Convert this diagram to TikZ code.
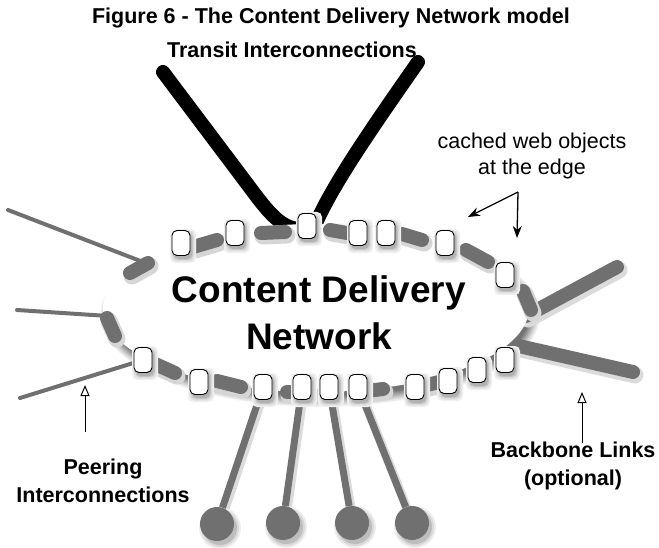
\documentclass[tikz,border=0pt]{standalone}
\usepackage{fontspec}
\setmainfont{Liberation Sans}
\usetikzlibrary{arrows.meta,shapes.geometric}
\definecolor{netgrey}{RGB}{112,112,112}
\begin{document}
\begin{tikzpicture}[x=1pt,y=-1pt,
  lbl/.style={align=center,font=\fontsize{21.5}{27.5}\selectfont\bfseries,inner sep=0pt},
  lblreg/.style={align=center,font=\fontsize{21.5}{25.5}\selectfont,inner sep=0pt},
  cachebox/.style={draw,line width=0.9pt,fill=white,rounded corners=5pt,minimum width=18pt,minimum height=25pt,inner sep=0pt},
  softsh/.style={fill=black!#1},
  seg/.style={line width=14pt,line cap=round,draw=netgrey},
  segshadow/.style={line width=17pt,line cap=round,draw=black!16},
  transit/.style={line width=14pt,line cap=round,draw=black},
  peer/.style={line width=4pt,line cap=round,draw=netgrey},
  backbone/.style={line width=14pt,line cap=round,draw=netgrey},
  bbshadow/.style={line width=17pt,line cap=round,draw=black!14},
  pend/.style={line width=7pt,draw=netgrey},
  pendshadow/.style={line width=9pt,draw=black!14},
  cust/.style={circle,fill=netgrey,minimum size=34pt,inner sep=0pt},
  callout/.style={line width=1.3pt,-{Stealth[length=12pt,width=9pt]}},
  openarrow/.style={line width=1pt,-{Triangle[open,length=11pt,width=9pt]}},
]
\useasboundingbox (0,0) rectangle (659,548);

% box positions
\coordinate (k1) at (181,243);
\coordinate (k2) at (235,233);
\coordinate (k3) at (307,226);
\coordinate (k4) at (358,233);
\coordinate (k5) at (386,233);
\coordinate (k6) at (445,243);
\coordinate (k7) at (505,275);
\coordinate (k8) at (505,360);
\coordinate (k9) at (477,370);
\coordinate (k10) at (448,381);
\coordinate (k11) at (415,387);
\coordinate (k12) at (358,387);
\coordinate (k13) at (329,387);
\coordinate (k14) at (302,387);
\coordinate (k15) at (263,387);
\coordinate (k16) at (199,382);
\coordinate (k17) at (143,360);

% texts
\node[lbl] (title) at (331,18) {Figure 6 - The Content Delivery Network model};
\node[lbl] (transitlbl) at (292,50) {Transit Interconnections};
\node[lblreg] (cachedlbl) at (532,156) {cached web objects\\at the edge};
\node[lbl] (peerlbl) at (103,481) {Peering\\Interconnections};
\node[lbl] (bblbl) at (573,466) {Backbone Links\\(optional)};

% soft shadow of the network
\coordinate (cdnc) at (316,308);
\fill[softsh=4]  (320,315) ellipse [x radius=220pt, y radius=92pt];
\fill[softsh=8]  (320,315) ellipse [x radius=219pt, y radius=91pt];
\fill[softsh=12] (320,315) ellipse [x radius=218pt, y radius=90pt];
\fill[softsh=16] (320,315) ellipse [x radius=217pt, y radius=89pt];
\fill[softsh=21] (320,315) ellipse [x radius=216pt, y radius=88pt];
\fill[softsh=26] (320,315) ellipse [x radius=215pt, y radius=87pt];
\fill[softsh=31] (320,315) ellipse [x radius=214pt, y radius=86pt];
\fill[softsh=36] (320,315) ellipse [x radius=213pt, y radius=85pt];
\fill[softsh=41] (320,315) ellipse [x radius=212pt, y radius=84pt];
\fill[softsh=46] (320,315) ellipse [x radius=211pt, y radius=83pt];
\fill[softsh=51] (320,315) ellipse [x radius=210pt, y radius=82pt];
\fill[softsh=55] (320,315) ellipse [x radius=209pt, y radius=81pt];

% transit lines
\coordinate (t1a) at (163,72);
\coordinate (t1b) at (248,185);
\coordinate (t1c) at (298,229);
\coordinate (t2a) at (418,62);
\coordinate (t2c) at (313,230);
\draw[transit] (t1a) -- (t1b) .. controls (268,212) and (280,227) .. (t1c);
\draw[transit] (t2a) .. controls (372,128) and (330,188) .. (t2c);

% peering lines
\coordinate (p1) at (8,210);
\coordinate (p1e) at (143,262);
\coordinate (p2) at (17,310);
\coordinate (p2e) at (108,316);
\coordinate (p3) at (20,398);
\draw[peer] (p1) -- (p1e);
\draw[peer] (p2) -- (p2e);
\draw[peer] (p3) -- (k17);

% backbone lines
\coordinate (bb1) at (617,267);
\coordinate (bb1e) at (526,316);
\coordinate (bb2) at (633,372);
\coordinate (bb2e) at (510,344);
\draw[bbshadow] ([shift={(2pt,-3pt)}]bb1e) -- ([shift={(2pt,-3pt)}]bb1);
\draw[bbshadow] ([shift={(2pt,-3pt)}]bb2e) -- ([shift={(2pt,-3pt)}]bb2);
\draw[backbone] (bb1e) -- (bb1);
\draw[backbone] (bb2e) -- (bb2);

% customers
\coordinate (cc1) at (217,524);
\coordinate (cc2) at (283,523);
\coordinate (cc3) at (352,523);
\coordinate (cc4) at (412,523);
\draw[pendshadow] ([shift={(2pt,-3pt)}]k15) -- ([shift={(2pt,-3pt)}]cc1);
\draw[pendshadow] ([shift={(2pt,-3pt)}]k14) -- ([shift={(2pt,-3pt)}]cc2);
\draw[pendshadow] ([shift={(2pt,-3pt)}]k13) -- ([shift={(2pt,-3pt)}]cc3);
\draw[pendshadow] ([shift={(2pt,-3pt)}]k12) -- ([shift={(2pt,-3pt)}]cc4);
\foreach \i in {1,...,4}{
  \foreach \r/\o in {21/7,19/15,17/26}{
    \fill[softsh=\o] ([shift={(3pt,-4pt)}]cc\i) circle [radius=\r pt];
  }
}
\foreach \i in {1,...,4}{
  \node[cust] (c\i) at (cc\i) {};
}
\draw[pend] (k15) -- (c1);
\draw[pend] (k14) -- (c2);
\draw[pend] (k13) -- (c3);
\draw[pend] (k12) -- (c4);

% the network
\node[ellipse,fill=white,minimum width=426pt,minimum height=168pt,inner sep=0pt] (cdn) at (cdnc) {};
\node[align=center,font=\fontsize{37}{47}\selectfont\bfseries,inner sep=0pt] (cdntext) at (319,313) {Content Delivery\\Network};

% grey segments on the rim
\foreach \a/\b in {{130,273}/{148,263},{107,318}/{115,336},{153,363}/{175,373},{217,381}/{241,387},
  {287,392}/{310,392},{367,391}/{383,389},{427,385}/{443,381},{193,247}/{217,240},{261,233}/{285,232},
  {330,230}/{347,233},{402,234}/{422,240},{466,250}/{488,262},{523,291}/{531,310}}{
  \draw[segshadow] ([shift={(2pt,-3pt)}]\a) -- ([shift={(2pt,-3pt)}]\b);
}
\foreach \a/\b in {{130,273}/{148,263},{107,318}/{115,336},{153,363}/{175,373},{217,381}/{241,387},
  {287,392}/{310,392},{367,391}/{383,389},{427,385}/{443,381},{193,247}/{217,240},{261,233}/{285,232},
  {330,230}/{347,233},{402,234}/{422,240},{466,250}/{488,262},{523,291}/{531,310}}{
  \draw[seg] (\a) -- (\b);
}

% cache boxes with soft shadows
\foreach \i in {1,...,17}{
  \foreach \w/\h/\o in {13/17/6,11.5/15.5/13,10/14/22,9/13/30}{
    \fill[softsh=\o,rounded corners=5pt] ([shift={(2pt,-3pt)}]k\i) ++(-\w pt,-\h pt) rectangle ++(2*\w pt,2*\h pt);
  }
}
\foreach \i in {1,...,17}{
  \node[cachebox] (box\i) at (k\i) {};
}

% callouts
\coordinate (cj) at (518,192);
\coordinate (ct1) at (468,217);
\coordinate (ct2) at (517,238);
\draw[callout] (cj) -- (ct1);
\draw[callout] (cj) -- (ct2);

\coordinate (pa0) at (85,432);
\coordinate (pa1) at (85,385);
\draw[openarrow] (pa0) -- (pa1);
\coordinate (ba0) at (582,443);
\coordinate (ba1) at (582,392);
\draw[openarrow] (ba0) -- (ba1);
\end{tikzpicture}
\end{document}
